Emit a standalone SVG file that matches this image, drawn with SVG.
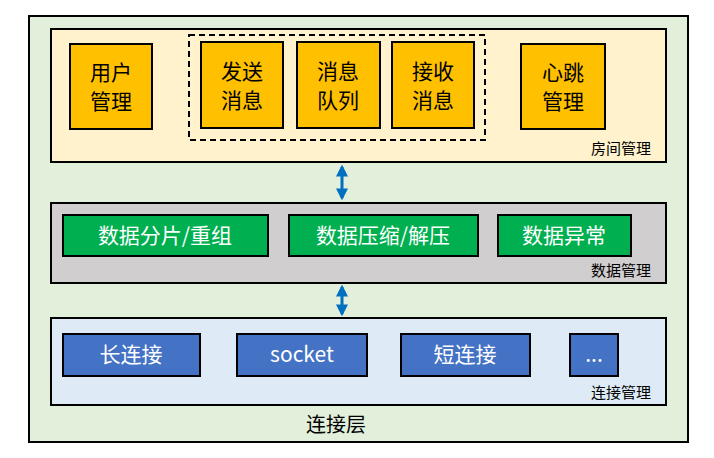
<svg xmlns="http://www.w3.org/2000/svg" width="714" height="458" viewBox="0 0 714 458">
<style>
.b{stroke:#000;stroke-width:2}
.t{font-family:"Microsoft YaHei","Noto Sans CJK SC",sans-serif;font-size:21px;text-anchor:middle}
.w{fill:#fff}
.l{font-family:"Noto Sans CJK SC",sans-serif;font-size:15px;text-anchor:end;fill:#000}
</style>
<defs>
<marker id="ah" viewBox="0 0 10 10" refX="8" refY="5" markerWidth="4" markerHeight="4" orient="auto-start-reverse"><path d="M0,0 L10,5 L0,10 z" fill="#0070c0"/></marker>
</defs>
<rect x="29" y="16" width="659" height="426" fill="#e2efda" class="b"/>
<g id="room">
<rect x="51" y="29" width="615" height="133" fill="#fff2cc" class="b"/>
<text x="651" y="154" class="l">房间管理</text>
</g>
<rect x="189" y="35" width="296" height="105" fill="none" stroke="#000" stroke-width="2" stroke-dasharray="6,4"/>
<g id="user"><rect x="70" y="44" width="82" height="85" fill="#ffc000" class="b"/><text class="t" x="111" y="80">用户</text><text class="t" x="111" y="109">管理</text></g>
<g id="send"><rect x="201" y="42" width="82" height="86" fill="#ffc000" class="b"/><text class="t" x="242" y="79">发送</text><text class="t" x="242" y="108">消息</text></g>
<g id="queue"><rect x="297" y="42" width="83" height="86" fill="#ffc000" class="b"/><text class="t" x="338" y="79">消息</text><text class="t" x="338" y="108">队列</text></g>
<g id="recv"><rect x="392" y="42" width="82" height="86" fill="#ffc000" class="b"/><text class="t" x="433" y="79">接收</text><text class="t" x="433" y="108">消息</text></g>
<g id="heart"><rect x="521" y="44" width="84" height="85" fill="#ffc000" class="b"/><text class="t" x="563" y="80">心跳</text><text class="t" x="563" y="109">管理</text></g>
<g id="data">
<rect x="51" y="203" width="615" height="80" fill="#d0cece" class="b"/>
<text x="651" y="276" class="l">数据管理</text>
</g>
<g id="split"><rect x="63" y="215" width="205" height="41" fill="#00b050" class="b"/><text class="t w" x="165" y="243">数据分片/重组</text></g>
<g id="compress"><rect x="289" y="215" width="189" height="41" fill="#00b050" class="b"/><text class="t w" x="383" y="243">数据压缩/解压</text></g>
<g id="except"><rect x="498" y="215" width="133" height="41" fill="#00b050" class="b"/><text class="t w" x="564" y="243">数据异常</text></g>
<g id="conn">
<rect x="51" y="318" width="615" height="87" fill="#deebf7" class="b"/>
<text x="651" y="398" class="l">连接管理</text>
</g>
<g id="long"><rect x="63" y="334" width="137" height="42" fill="#4472c4" class="b"/><text class="t w" x="131" y="362">长连接</text></g>
<g id="socket"><rect x="237" y="334" width="130" height="42" fill="#4472c4" class="b"/><text class="t w" x="302" y="362">socket</text></g>
<g id="short"><rect x="401" y="334" width="129" height="42" fill="#4472c4" class="b"/><text class="t w" x="465" y="362">短连接</text></g>
<g id="more"><rect x="570" y="334" width="48" height="42" fill="#4472c4" class="b"/><text class="t w" x="594" y="362">...</text></g>
<text x="336" y="432" class="t" style="font-size:20px">连接层</text>
<g id="connectors" stroke="#0070c0" stroke-width="3" marker-start="url(#ah)" marker-end="url(#ah)">
<line x1="342" y1="167" x2="342" y2="198"/>
<line x1="342" y1="287" x2="342" y2="314"/>
</g>
</svg>
